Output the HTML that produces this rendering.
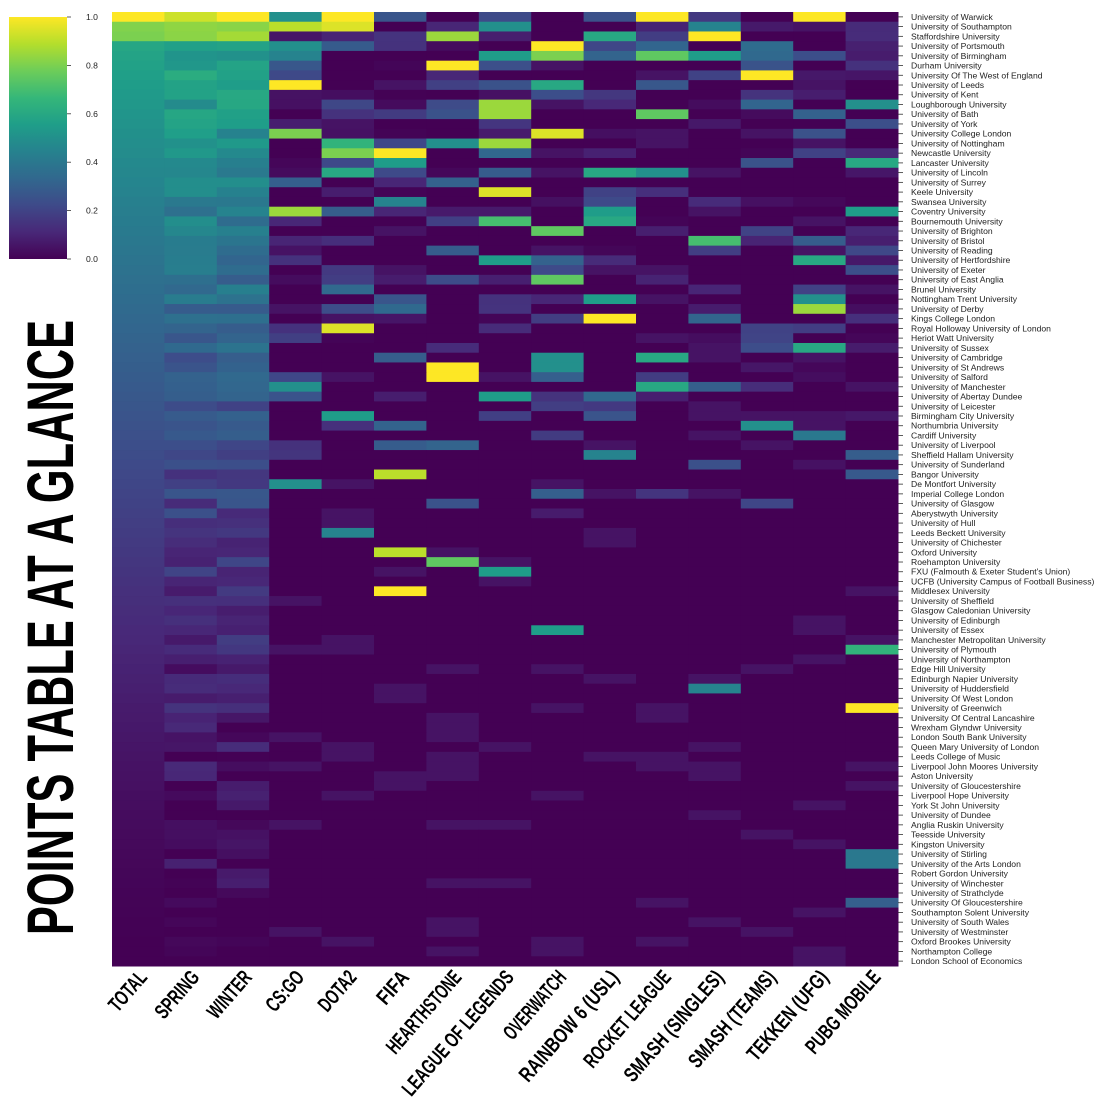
<!DOCTYPE html>
<html><head><meta charset="utf-8"><style>
html,body{margin:0;padding:0;background:#fff;overflow:hidden;}
svg text{font-family:"Liberation Sans Narrow","Liberation Sans",sans-serif;}
</style></head><body>
<svg id="s" width="1113" height="1104" xmlns="http://www.w3.org/2000/svg"></svg>
<script>
const unis=["University of Warwick","University of Southampton","Staffordshire University","University of Portsmouth","University of Birmingham","Durham University","University Of The West of England","University of Leeds","University of Kent","Loughborough University","University of Bath","University of York","University College London","University of Nottingham","Newcastle University","Lancaster University","University of Lincoln","University of Surrey","Keele University","Swansea University","Coventry University","Bournemouth University","University of Brighton","University of Bristol","University of Reading","University of Hertfordshire","University of Exeter","University of East Anglia","Brunel University","Nottingham Trent University","University of Derby","Kings College London","Royal Holloway University of London","Heriot Watt University","University of Sussex","University of Cambridge","University of St Andrews","University of Salford","University of Manchester","University of Abertay Dundee","University of Leicester","Birmingham City University","Northumbria University","Cardiff University","University of Liverpool","Sheffield Hallam University","University of Sunderland","Bangor University","De Montfort University","Imperial College London","University of Glasgow","Aberystwyth University","University of Hull","Leeds Beckett University","University of Chichester","Oxford University","Roehampton University","FXU (Falmouth & Exeter Student's Union)","UCFB (University Campus of Football Business)","Middlesex University","University of Sheffield","Glasgow Caledonian University","University of Edinburgh","University of Essex","Manchester Metropolitan University","University of Plymouth","University of Northampton","Edge Hill University","Edinburgh Napier University","University of Huddersfield","University Of West London","University of Greenwich","University Of Central Lancashire","Wrexham Glyndwr University","London South Bank University","Queen Mary University of London","Leeds College of Music","Liverpool John Moores University","Aston University","University of Gloucestershire","Liverpool Hope University","York St John University","University of Dundee","Anglia Ruskin University","Teesside University","Kingston University","University of Stirling","University of the Arts London","Robert Gordon University","University of Winchester","University of Strathclyde","University Of Gloucestershire","Southampton Solent University","University of South Wales","University of Westminster","Oxford Brookes University","Northampton College","London School of Economics"];
const cols=["TOTAL","SPRING","WINTER","CS:GO","DOTA2","FIFA","HEARTHSTONE","LEAGUE OF LEGENDS","OVERWATCH","RAINBOW 6 (USL)","ROCKET LEAGUE","SMASH (SINGLES)","SMASH (TEAMS)","TEKKEN (UFG)","PUBG MOBILE"];
const V=[[68,1,84],[72,40,120],[62,74,137],[49,104,142],[38,130,142],[31,158,137],[53,183,121],[109,205,89],[180,222,44],[253,231,37]];
function vir(t){t=Math.max(0,Math.min(1,t));const p=t*9,i=Math.min(8,Math.floor(p)),f=p-i;const a=V[i],b=V[i+1];return `rgb(${a.map((v,k)=>Math.round(v+(b[k]-v)*f)).join(",")})`;}
let seed=7;function rnd(){seed=(seed*16807)%2147483647;return seed/2147483647;}
const N=98,X0=112,X1=898,Y0=12,Y1=966,cw=(X1-X0)/15,rh=(Y1-Y0)/N;
function total(r){if(r==0)return 1;const x=r/97;return Math.max(0,0.62*Math.pow(1-x,1.6)+ (r<3?0.2:0));}
const data=[];
for(let r=0;r<N;r++){const row=[];const t=total(r);row.push(t);
row.push(Math.max(0,t+(rnd()-0.5)*0.15));row.push(Math.max(0,t+(rnd()-0.5)*0.15));
for(let c=3;c<15;c++){const p=Math.max(0,0.7-r/80);row.push(rnd()<p?rnd()*0.35:(rnd()<0.15?0.05:0));}
data.push(row);}
const hi={3:{0:.5,1:.9,3:.5,4:.45,7:1,12:.8,20:.85,38:.5,48:.5},4:{0:1,1:.95,13:.65,14:.8,16:.6,32:.95,41:.55,53:.45},5:{14:1,15:.55,19:.45,47:.9,55:.9,59:1},6:{2:.85,5:1,13:.5,36:1,37:1,56:.75},7:{1:.5,4:.55,9:.85,10:.85,13:.85,18:.95,21:.7,25:.55,39:.55,57:.55},8:{3:1,4:.8,7:.6,12:.95,22:.75,27:.75,35:.5,36:.5,63:.55},9:{2:.6,16:.6,20:.55,21:.6,29:.55,31:1,45:.45},10:{0:1,4:.75,10:.75,16:.5,35:.6,38:.6},11:{1:.45,2:1,4:.55,23:.7,69:.45},12:{3:.35,6:1,42:.5},13:{0:1,25:.6,29:.5,30:.85,34:.6,43:.4},14:{9:.5,15:.6,20:.55,65:.65,71:1,86:.4,87:.4,91:.3}};
for(const c in hi)for(const r in hi[c])data[r][c]=hi[c][r];
let h='';
for(let r=0;r<N;r++)for(let c=0;c<15;c++){h+=`<rect x="${(X0+c*cw).toFixed(2)}" y="${(Y0+r*rh).toFixed(2)}" width="${(cw+0.5).toFixed(2)}" height="${(rh+0.5).toFixed(2)}" fill="${vir(data[r][c])}"/>`;}
for(let r=0;r<N;r++){const y=Y0+(r+0.5)*rh;h+=`<line x1="898" y1="${y}" x2="903" y2="${y}" stroke="#333" stroke-width="0.8"/><text x="911" y="${y+3}" font-size="8.6" style="font-family:'Liberation Sans',sans-serif" fill="#222">${unis[r].replace(/&/g,'&amp;')}</text>`;}
h+='<defs><linearGradient id="g" x1="0" y1="1" x2="0" y2="0">';
for(let i=0;i<=9;i++)h+=`<stop offset="${i/9}" stop-color="${vir(i/9)}"/>`;
h+='</linearGradient></defs><rect x="9" y="17" width="58" height="242" fill="url(#g)"/>';
["1.0","0.8","0.6","0.4","0.2","0.0"].forEach((l,i)=>{const y=17+i*48.4;h+=`<line x1="67" y1="${y}" x2="71" y2="${y}" stroke="#333" stroke-width="0.8"/><text x="86" y="${y+3}" font-size="8.6" style="font-family:'Liberation Sans',sans-serif" fill="#222">${l}</text>`;});
for(let c=0;c<15;c++){const x=X0+(c+0.5)*cw+10;const L=cols[c].length*9.3;h+=`<text transform="translate(${x},978) rotate(-49)" text-anchor="end" font-size="21" font-weight="bold" fill="#000" textLength="${L}" lengthAdjust="spacingAndGlyphs">${cols[c]}</text>`;}
h+=`<text transform="translate(73,935) rotate(-90)" font-size="66" font-weight="bold" fill="#000" textLength="615" lengthAdjust="spacingAndGlyphs">POINTS TABLE AT A GLANCE</text>`;
document.getElementById('s').innerHTML=h;
</script>
</body></html>
